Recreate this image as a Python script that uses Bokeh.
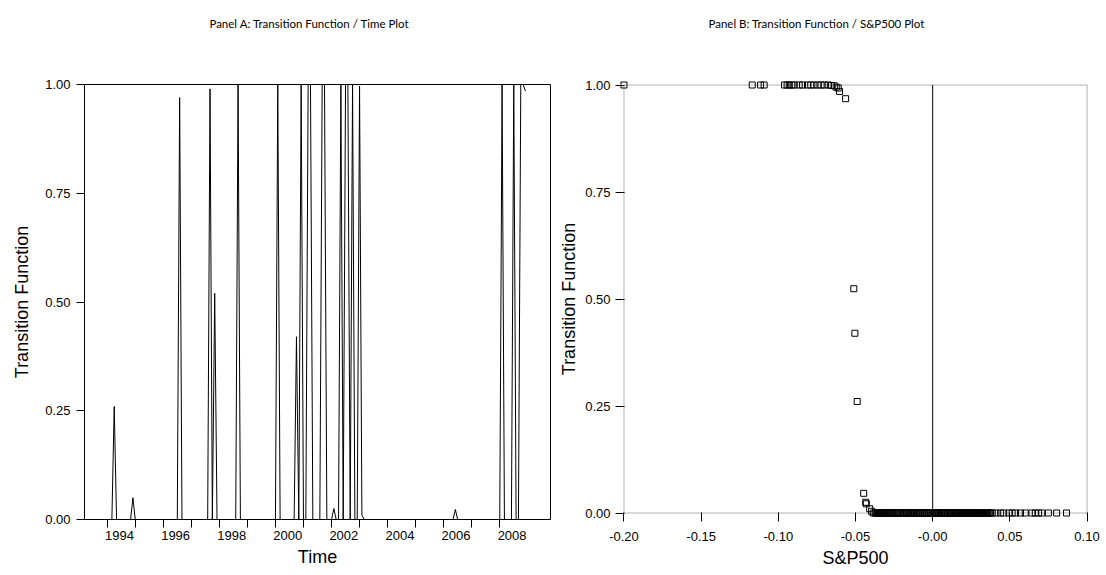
import json
from bokeh.plotting import figure
from bokeh.layouts import row
from bokeh.models import (Range1d, FixedTicker, CustomJSTickFormatter, BoxAnnotation,
                          LinearAxis)
from bokeh.embed import file_html
from bokeh.resources import INLINE

# ---------------- Panel A data (monthly transition function) ----------------
start_year, start_month = 1993, 3
end_year, end_month = 2008, 11
spike_year = [1994, 1994, 1996, 1997, 1997, 1998, 2000, 2000, 2000, 2001, 2001,
              2001, 2001, 2002, 2002, 2002, 2002, 2002, 2002, 2003, 2006, 2008,
              2008, 2008, 2008, 2008]
spike_month = [3, 11, 7, 8, 10, 8, 1, 9, 11, 2, 3,
               8, 9, 1, 4, 6, 7, 9, 12, 1, 5, 1,
               6, 9, 10, 11]
spike_value = [0.26, 0.05, 0.97, 0.99, 0.52, 1.0, 1.0, 0.42, 1.0, 1.0, 1.0,
               1.0, 1.0, 0.025, 1.0, 1.0, 1.0, 1.0, 0.996, 0.01, 0.023, 1.0,
               1.0, 1.0, 1.0, 0.985]
year_ticks = list(range(1994, 2009))
year_labels = list(range(1994, 2009, 2))

# ---------------- Panel B data (S&P500 return vs transition) ----------------
upper_returns = [-0.2000, -0.1169, -0.1115, -0.1092, -0.0960, -0.0943, -0.0929,
                 -0.0913, -0.0897, -0.0865, -0.0843, -0.0811, -0.0790, -0.0769,
                 -0.0744, -0.0723, -0.0702, -0.0677, -0.0655, -0.0637, -0.0625,
                 -0.0612, -0.0603, -0.0564]
upper_values = [1.0, 1.0, 1.0, 1.0, 1.0, 1.0, 1.0, 1.0, 1.0, 1.0, 1.0, 1.0, 1.0,
                1.0, 1.0, 1.0, 1.0, 1.0, 0.999, 0.998, 0.995, 0.993, 0.985, 0.968]
mid_returns = [-0.0511, -0.0504, -0.0489, -0.0447, -0.0434, -0.0430, -0.0408, -0.0396]
mid_values = [0.524, 0.420, 0.2605, 0.046, 0.025, 0.0215, 0.010, 0.004]
lower_returns = [
    -0.0385, -0.0372, -0.0366, -0.0359, -0.0351, -0.0346, -0.0338, -0.0333, -0.0325,
    -0.0318, -0.0309, -0.0305, -0.0296, -0.0291, -0.0284, -0.0277, -0.0272, -0.0263,
    -0.0258, -0.0249, -0.0246, -0.0237, -0.0231, -0.0226, -0.0218, -0.0211, -0.0207,
    -0.0198, -0.0192, -0.0185, -0.0179, -0.0171, -0.0166, -0.0158, -0.0153, -0.0146,
    -0.0139, -0.0134, -0.0125, -0.0119, -0.0114, -0.0105, -0.0101, -0.0093, -0.0089,
    -0.0080, -0.0076, -0.0067, -0.0063, -0.0054, -0.0050, -0.0042, -0.0037, -0.0029,
    -0.0025, -0.0016, -0.0012, -0.0004, 0.0002, 0.0010, 0.0015, 0.0023, 0.0027,
    0.0036, 0.0040, 0.0048, 0.0055, 0.0059, 0.0067, 0.0072, 0.0080, 0.0084, 0.0093,
    0.0097, 0.0105, 0.0112, 0.0116, 0.0124, 0.0131, 0.0135, 0.0143, 0.0148, 0.0156,
    0.0160, 0.0169, 0.0173, 0.0182, 0.0186, 0.0194, 0.0199, 0.0207, 0.0213, 0.0218,
    0.0226, 0.0231, 0.0239, 0.0244, 0.0252, 0.0257, 0.0265, 0.0270, 0.0278, 0.0283,
    0.0292, 0.0296, 0.0305, 0.0310, 0.0317, 0.0323, 0.0330, 0.0337, 0.0343, 0.0351,
    0.0356, 0.0364, 0.0371, 0.0377, 0.0386, 0.0410, 0.0440, 0.0460, 0.0494, 0.0515,
    0.0537, 0.0569, 0.0600, 0.0643, 0.0665, 0.0686, 0.0707, 0.0750, 0.0803, 0.0867]
lower_values = [0.0] * len(lower_returns)
b_xticks = [-0.20, -0.15, -0.10, -0.05, 0.0, 0.05, 0.10]
y_ticks = [0.0, 0.25, 0.50, 0.75, 1.0]

title_a = "Panel A: Transition Function / Time Plot"
title_b = "Panel B: Transition Function / S&P500 Plot"

# ---------------- build monthly series ----------------
lookup = {(a, b): v for a, b, v in zip(spike_year, spike_month, spike_value)}
dates, trans = [], []
yy, mm = start_year, start_month
while (yy, mm) <= (end_year, end_month):
    dates.append(yy + mm / 12.0)
    trans.append(lookup.get((yy, mm), 0.0))
    mm += 1
    if mm > 12:
        mm = 1
        yy += 1

TICK_FONT = "Liberation Sans"
TITLE_FONT = "Lato"
TICK_SIZE = "13px"
LABEL_SIZE = "18px"
TITLE_SIZE = "11.5px"
label_shift = 0.44

fmt2 = CustomJSTickFormatter(code="return tick.toFixed(2);")


def style_axis(ax, tick_out=8, tick_in=0, standoff=6, axis_line=True):
    ax.major_label_text_font = TICK_FONT
    ax.major_label_text_font_size = TICK_SIZE
    ax.major_label_text_color = "black"
    ax.axis_label_text_font = TICK_FONT
    ax.axis_label_text_font_size = LABEL_SIZE
    ax.axis_label_text_font_style = "normal"
    ax.axis_label_text_color = "black"
    ax.major_tick_line_color = "black"
    ax.major_tick_out = tick_out
    ax.major_tick_in = tick_in
    ax.minor_tick_line_color = None
    ax.axis_line_color = "black" if axis_line else None
    ax.major_label_standoff = standoff


def add_title(p, text, anchor_x, standoff):
    # panel heading drawn as the single label of an otherwise invisible top axis
    ax = LinearAxis(ticker=FixedTicker(ticks=[anchor_x]),
                    formatter=CustomJSTickFormatter(code="return %s;" % json.dumps(text)),
                    axis_line_color=None, major_tick_line_color=None,
                    minor_tick_line_color=None, major_tick_out=0, major_tick_in=0,
                    major_label_standoff=standoff,
                    major_label_text_font=TITLE_FONT,
                    major_label_text_font_size=TITLE_SIZE,
                    major_label_text_color="black")
    p.add_layout(ax, "above")


H = 572

# ---------------- Panel A ----------------
A_XMIN, A_XMAX = 1993.19, 2009.81
pA = figure(width=556, height=H, x_range=Range1d(A_XMIN, A_XMAX),
            y_range=Range1d(0, 1), output_backend="svg", toolbar_location=None,
            min_border_left=84, min_border_right=6, min_border_top=84,
            min_border_bottom=H - 519, frame_align=False)
pA.xgrid.visible = False
pA.ygrid.visible = False
pA.outline_line_color = "black"
pA.outline_line_alpha = 1.0
pA.line(dates, trans, line_color="black", line_width=1)

xa = pA.below[0]
ya = pA.left[0]
# heading centred at 54% of the time axis width
add_title(pA, title_a, A_XMIN + 0.483 * (A_XMAX - A_XMIN), 55)

xa.ticker = FixedTicker(ticks=[y + label_shift for y in year_labels],
                        minor_ticks=year_ticks)
xa.formatter = CustomJSTickFormatter(code="return Math.floor(tick + 1e-6).toFixed(0);")
xa.axis_label = "Time"
style_axis(xa, tick_out=8, standoff=3)
xa.major_tick_line_color = None
xa.minor_tick_line_color = "black"
xa.minor_tick_out = 8
xa.minor_tick_in = 0
xa.axis_label_standoff = 4

ya.ticker = FixedTicker(ticks=y_ticks)
ya.formatter = fmt2
ya.axis_label = "Transition Function"
style_axis(ya, tick_out=8, standoff=6)
ya.axis_label_standoff = 10

# ---------------- Panel B ----------------
XMIN, XMAX, YMIN, YMAX = -0.20, 0.10, 0.0, 1.0
padx = 4.5 / 1550.0
pady = 4.5 / 428.0
pB = figure(width=548, height=H,
            x_range=Range1d(XMIN - padx, XMAX + padx),
            y_range=Range1d(YMIN - pady, YMAX + pady),
            output_backend="svg", toolbar_location=None,
            min_border_left=61, min_border_right=13, min_border_top=80,
            min_border_bottom=H - 517, frame_align=False)
pB.xgrid.visible = False
pB.ygrid.visible = False
pB.outline_line_color = None
pB.add_layout(BoxAnnotation(left=XMIN, right=XMAX, bottom=YMIN, top=YMAX,
                            fill_alpha=0, line_color="black", line_width=1))
pB.segment(x0=[0.0], y0=[YMIN], x1=[0.0], y1=[YMAX], line_color="black", line_width=1)

for xs, ys in ((upper_returns, upper_values), (mid_returns, mid_values),
               (lower_returns, lower_values)):
    pB.scatter(xs, ys, marker="square", size=6, fill_color=None,
               line_color="black", line_width=1)

xb = pB.below[0]
yb = pB.left[0]
add_title(pB, title_b, XMIN + 0.416 * (XMAX - XMIN), 51)

xb.ticker = FixedTicker(ticks=b_xticks)
xb.formatter = CustomJSTickFormatter(code="""
if (Math.abs(tick) < 1e-9) { return '-0.00'; }
return tick.toFixed(2);
""")
xb.axis_label = "S&P500"
style_axis(xb, tick_out=4, tick_in=5, standoff=10, axis_line=False)
xb.axis_label_standoff = 4

yb.ticker = FixedTicker(ticks=y_ticks)
yb.formatter = fmt2
yb.axis_label = "Transition Function"
style_axis(yb, tick_out=4, tick_in=5, standoff=5, axis_line=False)
yb.axis_label_standoff = 3

layout = row(pA, pB)
open("out.html", "w").write(file_html(layout, INLINE))
